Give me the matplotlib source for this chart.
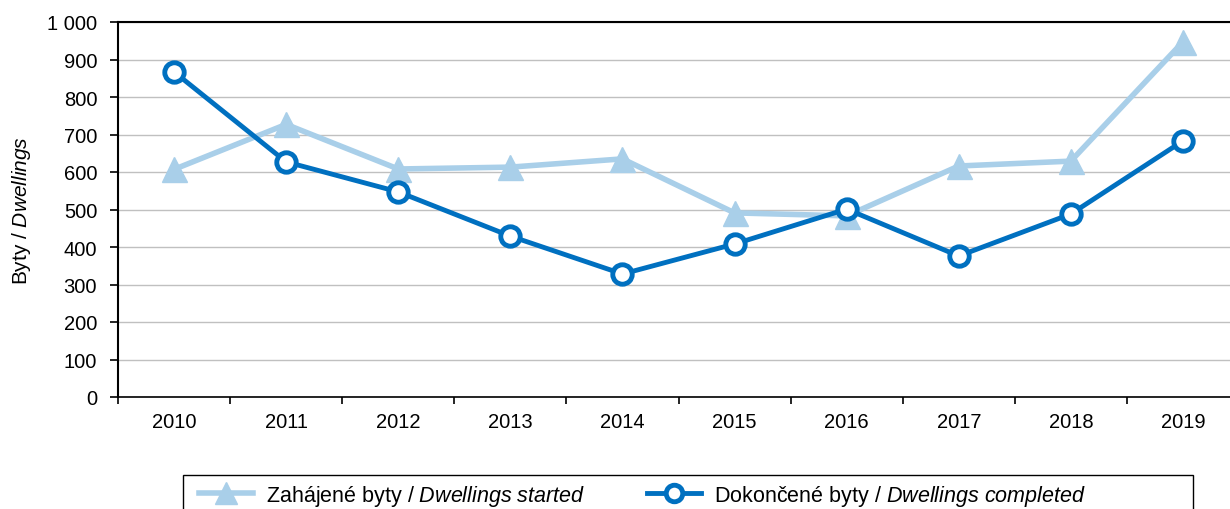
import matplotlib.pyplot as plt
import numpy as np
from matplotlib.ticker import FuncFormatter, FixedLocator
from matplotlib.patches import Rectangle

plt.rcParams['font.family'] = ['Liberation Sans', 'DejaVu Sans']
plt.rcParams['mathtext.fontset'] = 'custom'
plt.rcParams['mathtext.rm'] = 'Liberation Sans'
plt.rcParams['mathtext.it'] = 'Liberation Sans:italic'

years = ['2010', '2011', '2012', '2013', '2014', '2015', '2016', '2017', '2018', '2019']
started = [607, 727, 608, 613, 635, 491, 483, 616, 629, 947]
completed = [867, 627, 547, 429, 328, 408, 501, 376, 488, 683]

light = '#a9cfe9'
dark = '#0070c0'

fig = plt.figure(figsize=(12.3, 5.1), dpi=100)
ax = fig.add_axes([118 / 1230, 1 - 398 / 510, 1121 / 1230, 375 / 510])

x = np.arange(len(years))
ax.plot(x, started, color=light, linewidth=4, marker='^', markersize=18,
        markerfacecolor=light, markeredgecolor=light,
        label='Zahájené byty / $Dwellings\\ started$')
ax.plot(x, completed, color=dark, linewidth=3.5, marker='o', markersize=14,
        markerfacecolor='white', markeredgecolor=dark, markeredgewidth=3.5,
        label='Dokončené byty / $Dwellings\\ completed$')

ax.set_xlim(-0.5, len(years) - 0.5)
ax.set_ylim(0, 1000)
ax.set_yticks(np.arange(0, 1001, 100))
ax.yaxis.set_major_formatter(FuncFormatter(lambda v, p: f'{int(v):,}'.replace(',', ' ')))
ax.set_xticks(x)
ax.set_xticklabels(years)
ax.xaxis.set_minor_locator(FixedLocator(np.arange(-0.5, len(years), 1)))
ax.tick_params(axis='x', which='major', length=0, pad=11, labelsize=14.5)
ax.tick_params(axis='x', which='minor', length=5, width=1.2, color='black')
ax.tick_params(axis='y', length=6, width=1.2, labelsize=14.5, pad=9)

ax.grid(axis='y', color='#c0c0c0', linewidth=1)
ax.set_axisbelow(True)
ax.spines['right'].set_visible(False)
ax.spines['top'].set_linewidth(1.5)
ax.spines['left'].set_linewidth(1.5)
ax.spines['bottom'].set_linewidth(1.2)
ax.set_ylabel('Byty / $Dwellings$', fontsize=15, labelpad=10)

# legend entries without frame, box drawn separately (wider than entries)
leg = fig.legend(loc='upper left', bbox_to_anchor=(188 / 1230, 1 - 473 / 510),
                 ncol=2, fontsize=15.5, frameon=False,
                 handlelength=2.5, handletextpad=0.6,
                 columnspacing=2.9, borderpad=0.5, borderaxespad=0,
                 markerscale=0.85)
box = Rectangle((183 / 1230, -0.1), (1193 - 183) / 1230, 0.1 + (510 - 476) / 510,
                transform=fig.transFigure, fill=False, edgecolor='black',
                linewidth=1)
fig.add_artist(box)

fig.savefig('out.png', dpi=100)
